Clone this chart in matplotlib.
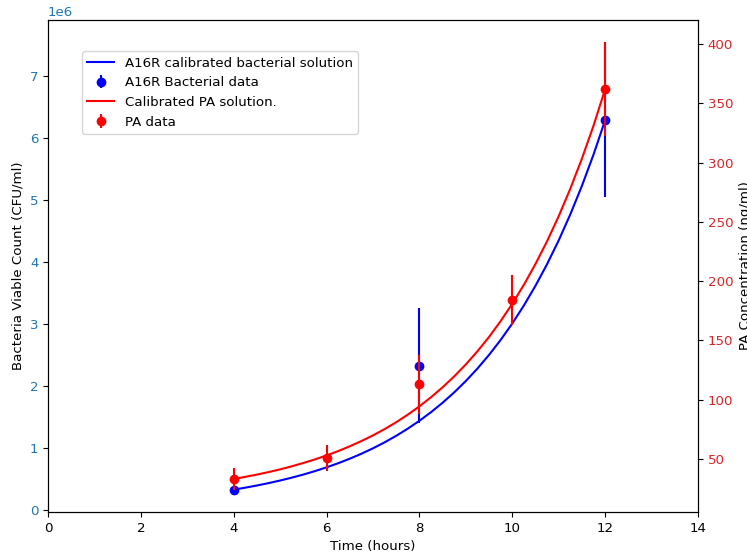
import matplotlib
matplotlib.use("Agg")
import matplotlib.pyplot as plt

plt.rcParams['font.size'] = 9.6

# measured data (hours)
t_bact = [4, 8, 12]
bact = [0.33e6, 2.33e6, 6.29e6]
bact_err = [0.0, 0.92e6, 1.25e6]

t_pa = [4, 6, 8, 10, 12]
pa = [33.0, 50.5, 113.0, 184.0, 362.0]
pa_err = [9.0, 11.0, 25.0, 21.0, 39.5]

# calibrated model output, every quarter hour from 4 to 12 h
t_model = [4.0, 4.25, 4.5, 4.75, 5.0, 5.25, 5.5, 5.75, 6.0, 6.25, 6.5,
           6.75, 7.0, 7.25, 7.5, 7.75, 8.0, 8.25, 8.5, 8.75, 9.0, 9.25,
           9.5, 9.75, 10.0, 10.25, 10.5, 10.75, 11.0, 11.25, 11.5, 11.75, 12.0]
bact_model = [0.3300e6, 0.3618e6, 0.3967e6, 0.4350e6, 0.4770e6, 0.5230e6,
              0.5734e6, 0.6287e6, 0.6894e6, 0.7559e6, 0.8288e6, 0.9087e6,
              0.9964e6, 1.0925e6, 1.1979e6, 1.3135e6, 1.4402e6, 1.5791e6,
              1.7314e6, 1.8984e6, 2.0815e6, 2.2823e6, 2.5025e6, 2.7439e6,
              3.0085e6, 3.2987e6, 3.6169e6, 3.9658e6, 4.3484e6, 4.7678e6,
              5.2277e6, 5.7320e6, 6.2849e6]
pa_model = [33.0, 34.8, 36.7, 38.8, 41.1, 43.7, 46.5, 49.5, 52.9, 56.5,
            60.6, 65.0, 69.8, 75.1, 80.9, 87.3, 94.3, 102.0, 110.4, 119.6,
            129.7, 140.8, 152.9, 166.3, 180.9, 196.9, 214.5, 233.7, 254.8,
            278.0, 303.4, 331.2, 362.0]

fig, ax1 = plt.subplots(figsize=(7.47, 5.59), dpi=100)
fig.subplots_adjust(left=48/747, right=698/747, bottom=1-512/559, top=1-20/559)

l1, = ax1.plot(t_model, bact_model, color='blue', label='A16R calibrated bacterial solution')
e1 = ax1.errorbar(t_bact, bact, yerr=bact_err, fmt='o', color='blue', label='A16R Bacterial data')
ax1.set_xlabel('Time (hours)')
ax1.set_ylabel('Bacteria Viable Count (CFU/ml)')
ax1.tick_params(axis='y', labelcolor='tab:blue')
ax1.set_xlim(0, 14)

ax2 = ax1.twinx()
l2, = ax2.plot(t_model, pa_model, color='red', label='Calibrated PA solution.')
e2 = ax2.errorbar(t_pa, pa, yerr=pa_err, fmt='o', color='red', label='PA data')
ax2.set_ylabel('PA Concentration (ng/ml)')
ax2.tick_params(axis='y', labelcolor='tab:red')

ax2.legend(handles=[l1, e1, l2, e2], loc='upper left', bbox_to_anchor=(0.042, 0.95))

plt.savefig('out.png', dpi=100)
